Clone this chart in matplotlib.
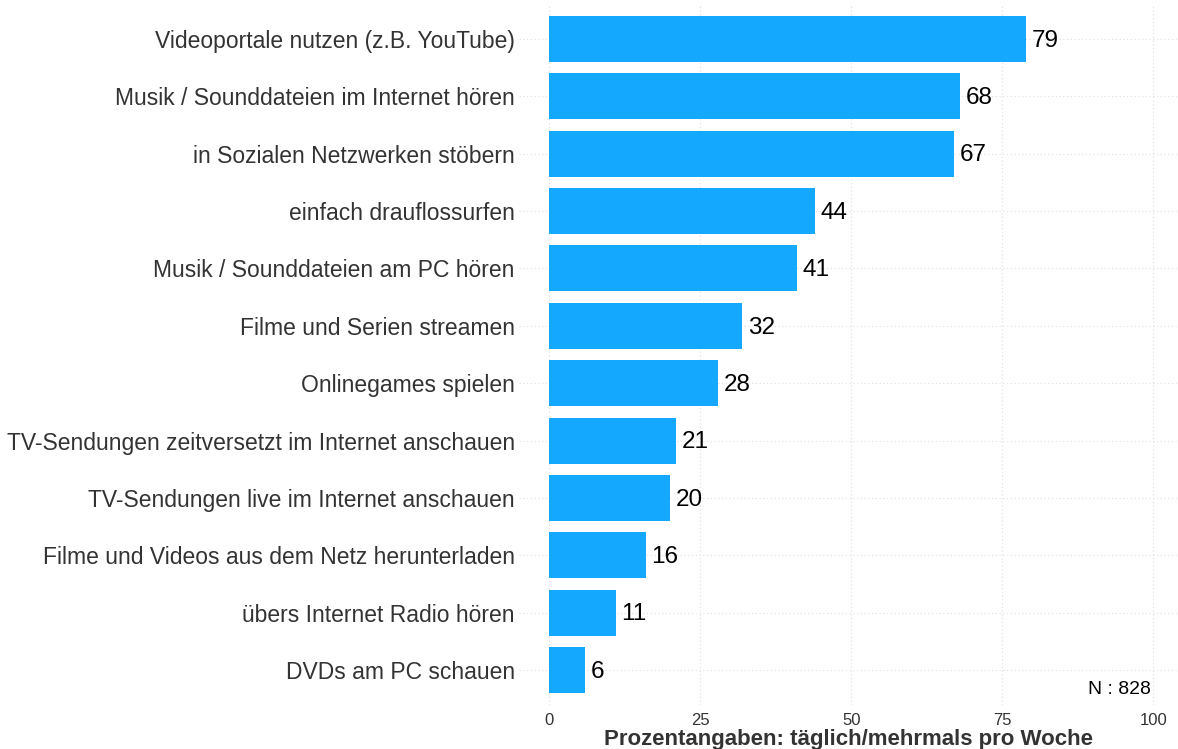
import matplotlib
matplotlib.use("Agg")
import matplotlib.pyplot as plt

# Daten (von oben nach unten)
categories = [
    "Videoportale nutzen (z.B. YouTube)",
    "Musik / Sounddateien im Internet hören",
    "in Sozialen Netzwerken stöbern",
    "einfach drauflossurfen",
    "Musik / Sounddateien am PC hören",
    "Filme und Serien streamen",
    "Onlinegames spielen",
    "TV-Sendungen zeitversetzt im Internet anschauen",
    "TV-Sendungen live im Internet anschauen",
    "Filme und Videos aus dem Netz herunterladen",
    "übers Internet Radio hören",
    "DVDs am PC schauen",
]
values = [79, 68, 67, 44, 41, 32, 28, 21, 20, 16, 11, 6]
x_ticks = [0, 25, 50, 75, 100]
n_label = "N : 828"
x_title = "Prozentangaben: täglich/mehrmals pro Woche"

BAR_COLOR = "#14A9FF"
GRID_COLOR = "#e3e3e3"
TEXT_COLOR = "#333333"

plt.rcParams["font.family"] = ["Liberation Sans", "DejaVu Sans"]

fig = plt.figure(figsize=(11.78, 7.49), dpi=100)
ax = fig.add_axes([519 / 1178, 44.5 / 749, 659 / 1178, 700 / 749])

ypos = list(range(len(categories)))
ax.barh(ypos, values, height=0.8, color=BAR_COLOR, zorder=2)

for y, v in zip(ypos, values):
    ax.text(v + 0.9, y + 0.03, str(v), ha="left", va="center", fontsize=17.5,
            color="black", zorder=3)

ax.set_xlim(-5, 104.1)
ax.set_ylim(len(categories) - 0.4, -0.6)
ax.set_xticks(x_ticks)
ax.set_xticklabels([str(t) for t in x_ticks], fontsize=12, color=TEXT_COLOR)
ax.set_yticks(ypos)
ax.set_yticklabels(categories, fontsize=16.5, color=TEXT_COLOR)
ax.tick_params(axis="both", length=0)
ax.tick_params(axis="y", pad=3)
ax.tick_params(axis="x", pad=6)

ax.grid(True, axis="both", linestyle=(0, (1, 2)), color=GRID_COLOR,
        linewidth=0.9, zorder=0)
ax.set_axisbelow(True)
for s in ax.spines.values():
    s.set_visible(False)

ax.text(99.6, 11.33, n_label, ha="right", va="center", fontsize=14,
        color="black")

ax.set_xlabel(x_title, fontsize=16, fontweight="bold", color=TEXT_COLOR,
              labelpad=1)

fig.savefig("out.png", dpi=100)
